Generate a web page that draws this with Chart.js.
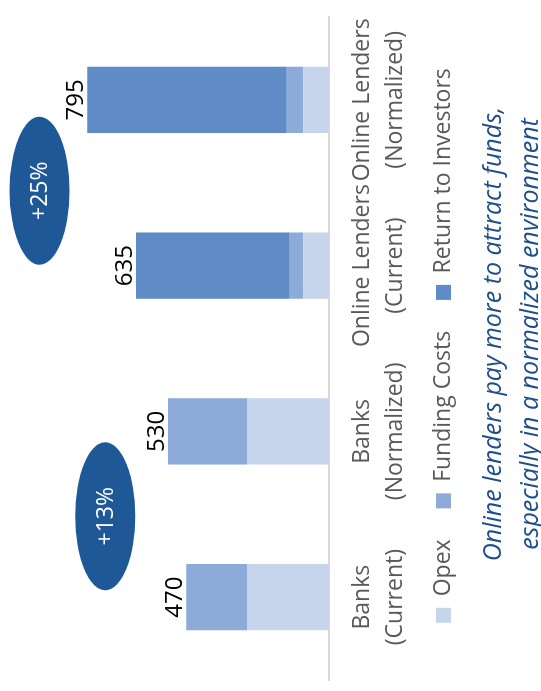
<!DOCTYPE html>
<html>
<head>
<meta charset="utf-8">
<script src="https://cdn.jsdelivr.net/npm/chart.js@4"></script>
<style>
  html, body { margin: 0; padding: 0; background: #fff; overflow: hidden; }
  /* the whole chart is turned a quarter to the left, like the reference */
  #wrap { position: absolute; left: 0; top: 0; width: 691px; height: 541px;
          transform-origin: 0 0; transform: translate(0, 691px) rotate(-90deg); }
</style>
</head>
<body>
<div id="wrap"><canvas id="myChart" width="691" height="541"></canvas></div>
<script>
var categories = [
    ['Banks', '(Current)'],
    ['Banks', '(Normalized)'],
    ['Online Lenders', '(Current)'],
    ['Online Lenders', '(Normalized)']
];
var opex = [270, 270, 85, 85];
var fundingCosts = [200, 260, 45, 55];
var returnToInvestors = [0, 0, 505, 655];
var totals = [470, 530, 635, 795];
// growth bubbles: text, the two bars it sits between, height on the value axis
var growthText = ['+13%', '+25%'];
var growthPairs = [[0, 1], [2, 3]];
var growthLevel = [736, 952];
var caption = ['Online lenders pay more to attract funds,', 'especially in a normalized environment'];

var FONT = '"Open Sans", "DejaVu Sans", sans-serif';
var LEGEND_LIFT = 28;

// totals over the bars, the two blue bubbles and the caption
var extras = {
    id: 'extras',
    afterLayout: function(chart) {
        // legend sits tighter under the category labels than Chart.js puts it
        chart.legend.top -= LEGEND_LIFT;
        chart.legend.bottom -= LEGEND_LIFT;
    },
    afterDraw: function(chart) {
        var ctx = chart.ctx;
        var xs = chart.scales.x, ys = chart.scales.y;
        var shift = [-2, -8];
        ctx.save();
        ctx.fillStyle = '#000000';
        ctx.font = '24px ' + FONT;
        ctx.textAlign = 'center';
        ctx.textBaseline = 'alphabetic';
        totals.forEach(function(t, i) {
            ctx.fillText(String(t), xs.getPixelForValue(i), ys.getPixelForValue(t) - 4);
        });

        growthText.forEach(function(txt, i) {
            var cx = (xs.getPixelForValue(growthPairs[i][0]) + xs.getPixelForValue(growthPairs[i][1])) / 2 + shift[i];
            var cy = ys.getPixelForValue(growthLevel[i]);
            ctx.beginPath();
            ctx.ellipse(cx, cy, 74, 30, 0, 0, Math.PI * 2);
            ctx.fillStyle = '#1F5896';
            ctx.fill();
            ctx.fillStyle = '#ffffff';
            ctx.font = '23px ' + FONT;
            ctx.textBaseline = 'middle';
            ctx.fillText(txt, cx, cy + 1);
        });

        ctx.fillStyle = '#1F4E8C';
        ctx.font = 'italic 25px ' + FONT;
        ctx.textBaseline = 'middle';
        ctx.fillText(caption[0], 357, 494);
        ctx.fillText(caption[1], 357, 531);
        ctx.restore();
    }
};

var ctx = document.getElementById('myChart').getContext('2d');
var chart = new Chart(ctx, {
    type: 'bar',
    data: {
        labels: categories,
        datasets: [{
            label: 'Opex',
            data: opex,
            backgroundColor: '#C6D4EC'
        }, {
            label: 'Funding Costs',
            data: fundingCosts,
            backgroundColor: '#8CABD9'
        }, {
            label: 'Return to Investors',
            data: returnToInvestors,
            backgroundColor: '#5F8BC7'
        }]
    },
    options: {
        responsive: false,
        animation: false,
        events: [],
        barPercentage: 0.4,
        categoryPercentage: 1,
        layout: { padding: { left: 11, right: 11, top: 25, bottom: 48 } },
        scales: {
            x: {
                stacked: true,
                grid: { display: false, drawTicks: false },
                border: { display: true, color: '#D9D9D9', width: 2 },
                ticks: {
                    color: '#595959',
                    padding: 17,
                    maxRotation: 0,
                    autoSkip: false,
                    font: { family: FONT, size: 23, lineHeight: 1.43 }
                }
            },
            y: {
                stacked: true,
                display: false,
                min: 0,
                max: 1000
            }
        },
        plugins: {
            tooltip: { enabled: false },
            legend: {
                position: 'bottom',
                labels: {
                    color: '#595959',
                    boxWidth: 15,
                    boxHeight: 15,
                    padding: 31,
                    font: { family: FONT, size: 23 }
                }
            }
        }
    },
    plugins: [extras]
});
</script>
</body>
</html>
